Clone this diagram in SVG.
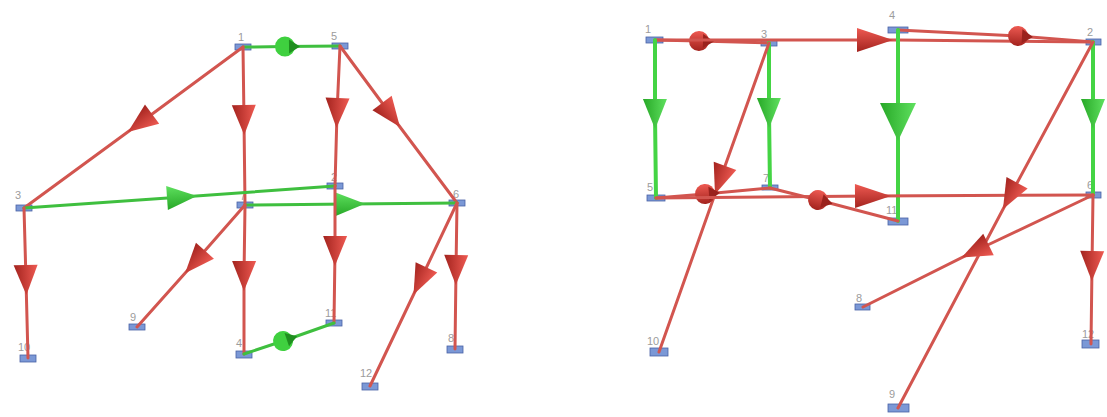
<svg xmlns="http://www.w3.org/2000/svg" width="1107" height="417" viewBox="0 0 1107 417">
<style>
.re{fill:none;stroke:#d2554f;stroke-width:3;stroke-linecap:round}
.ge{fill:none;stroke:#3fbf3f;stroke-width:3;stroke-linecap:round}
.gb{fill:none;stroke:#44d444;stroke-width:4;stroke-linecap:round}
.nd{fill:#7b98d6;stroke:#4a62a6;stroke-width:0.8}
.lb{font-family:"Liberation Sans",Arial,sans-serif;font-size:11px;fill:#9c9c9c}
</style>
<defs>
<linearGradient id="gr" x1="0" y1="0" x2="0" y2="1"><stop offset="0" stop-color="#ee5a52"/><stop offset="1" stop-color="#a3231e"/></linearGradient>
<linearGradient id="gg" x1="0" y1="0" x2="0" y2="1"><stop offset="0" stop-color="#5fe05f"/><stop offset="1" stop-color="#27a827"/></linearGradient>
<marker id="ra" markerUnits="userSpaceOnUse" orient="auto" overflow="visible" markerWidth="40" markerHeight="40"><path d="M-15,-12 L15,0 L-15,12 Z" fill="url(#gr)"/></marker>
<marker id="raL" markerUnits="userSpaceOnUse" orient="auto" overflow="visible" markerWidth="40" markerHeight="40"><path d="M-18,-12 L18,0 L-18,12 Z" fill="url(#gr)"/></marker>
<marker id="ga" markerUnits="userSpaceOnUse" orient="auto" overflow="visible" markerWidth="40" markerHeight="40"><path d="M-15,-12 L15,0 L-15,12 Z" fill="url(#gg)"/></marker>
<marker id="gaL" markerUnits="userSpaceOnUse" orient="auto" overflow="visible" markerWidth="50" markerHeight="50"><path d="M-19,-18 L19,0 L-19,18 Z" fill="url(#gg)"/></marker>
<marker id="rb" markerUnits="userSpaceOnUse" orient="auto" overflow="visible" markerWidth="40" markerHeight="40"><circle r="10" fill="url(#gr)"/><path d="M4,-7 L15,0 L4,7 Z" fill="#9a221d"/></marker>
<marker id="gbm" markerUnits="userSpaceOnUse" orient="auto" overflow="visible" markerWidth="40" markerHeight="40"><circle r="10" fill="#3fd03f"/><path d="M4,-7 L15,0 L4,7 Z" fill="#1f8f1f"/></marker>
</defs>
<rect width="1107" height="417" fill="#ffffff"/>
<g id="L1"><rect class="nd" x="235" y="44" width="16" height="6"/><text class="lb" x="238" y="41">1</text></g>
<g id="L5"><rect class="nd" x="332" y="43" width="16" height="6"/><text class="lb" x="331" y="40">5</text></g>
<g id="L3"><rect class="nd" x="16" y="205" width="16" height="6"/><text class="lb" x="15" y="199">3</text></g>
<g id="L7"><rect class="nd" x="237" y="202" width="16" height="6"/><text class="lb" x="240" y="200">7</text></g>
<g id="L2"><rect class="nd" x="327" y="183" width="16" height="6"/><text class="lb" x="331" y="181">2</text></g>
<g id="L6"><rect class="nd" x="449" y="200" width="16" height="6"/><text class="lb" x="453" y="198">6</text></g>
<g id="L10"><rect class="nd" x="20" y="355" width="16" height="7"/><text class="lb" x="18" y="351">10</text></g>
<g id="L9"><rect class="nd" x="129" y="324" width="16" height="6"/><text class="lb" x="130" y="321">9</text></g>
<g id="L4"><rect class="nd" x="236" y="351" width="16" height="7"/><text class="lb" x="236" y="347">4</text></g>
<g id="L11"><rect class="nd" x="326" y="320" width="16" height="6"/><text class="lb" x="325" y="317">11</text></g>
<g id="L12"><rect class="nd" x="362" y="383" width="16" height="7"/><text class="lb" x="360" y="377">12</text></g>
<g id="L8"><rect class="nd" x="447" y="346" width="16" height="7"/><text class="lb" x="448" y="342">8</text></g>
<g id="R1"><rect class="nd" x="646" y="37" width="17" height="6"/><text class="lb" x="645" y="33">1</text></g>
<g id="R3"><rect class="nd" x="761" y="40" width="16" height="6"/><text class="lb" x="761" y="38">3</text></g>
<g id="R4"><rect class="nd" x="888" y="27" width="20" height="6"/><text class="lb" x="889" y="19">4</text></g>
<g id="R2"><rect class="nd" x="1086" y="39" width="15" height="6"/><text class="lb" x="1087" y="36">2</text></g>
<g id="R5"><rect class="nd" x="647" y="195" width="18" height="6"/><text class="lb" x="647" y="191">5</text></g>
<g id="R7"><rect class="nd" x="762" y="185" width="16" height="5"/><text class="lb" x="763" y="182">7</text></g>
<g id="R11"><rect class="nd" x="888" y="218" width="20" height="7"/><text class="lb" x="886" y="214">11</text></g>
<g id="R6"><rect class="nd" x="1086" y="192" width="15" height="6"/><text class="lb" x="1087" y="189">6</text></g>
<g id="R8"><rect class="nd" x="855" y="304" width="15" height="6"/><text class="lb" x="856" y="302">8</text></g>
<g id="R10"><rect class="nd" x="650" y="348" width="18" height="8"/><text class="lb" x="647" y="345">10</text></g>
<g id="R9"><rect class="nd" x="888" y="404" width="21" height="8"/><text class="lb" x="889" y="398">9</text></g>
<g id="R12"><rect class="nd" x="1082" y="340" width="17" height="8"/><text class="lb" x="1082" y="338">12</text></g>
<g id="connectors">
<path class="ge" d="M243,47 L285,46.6 L340,46" marker-mid="url(#gbm)"/>
<path class="re" d="M243,47 L140,123 L24,208" marker-mid="url(#ra)"/>
<path class="re" d="M243,47 L244,120 L245,205" marker-mid="url(#ra)"/>
<path class="re" d="M340,46 L337,113 L335,186" marker-mid="url(#ra)"/>
<path class="re" d="M340,46 L391,115 L457,203" marker-mid="url(#ra)"/>
<path class="ge" d="M24,208 L182,197 L335,186" marker-mid="url(#ga)"/>
<path class="ge" d="M245,205 L350,204 L457,203" marker-mid="url(#ga)"/>
<path class="re" d="M24,208 L26,280 L28,358" marker-mid="url(#ra)"/>
<path class="re" d="M245,205 L195,262 L137,327" marker-mid="url(#ra)"/>
<path class="re" d="M245,205 L244,276 L244,354" marker-mid="url(#ra)"/>
<path class="re" d="M335,186 L335,251 L334,323" marker-mid="url(#ra)"/>
<path class="ge" d="M244,354 L283,341 L334,323" marker-mid="url(#gbm)"/>
<path class="re" d="M457,203 L420,281 L370,386" marker-mid="url(#ra)"/>
<path class="re" d="M457,203 L456,270 L455,349" marker-mid="url(#ra)"/>
<path class="re" d="M655,40 L699,41 L769,43" marker-mid="url(#rb)"/>
<path class="re" d="M655,40 L875,40 L897,40" marker-mid="url(#raL)"/>
<path class="re" d="M897,40 L1093,42"/>
<path class="re" d="M898,30 L1018,36 L1093,42" marker-mid="url(#rb)"/>
<path class="gb" d="M655,40 L655,114 L656,198" marker-mid="url(#ga)"/>
<path class="gb" d="M769,43 L769,113 L770,188" marker-mid="url(#ga)"/>
<path class="gb" d="M898,30 L898,122 L898,221" marker-mid="url(#gaL)"/>
<path class="gb" d="M1093,42 L1093,114 L1093,195" marker-mid="url(#ga)"/>
<path class="re" d="M769,43 L720,180 L659,352" marker-mid="url(#ra)"/>
<path class="re" d="M656,198 L705,194 L770,188" marker-mid="url(#rb)"/>
<path class="re" d="M656,198 L873,196 L1093,195" marker-mid="url(#raL)"/>
<path class="re" d="M770,188 L818,200 L898,221" marker-mid="url(#rb)"/>
<path class="re" d="M1093,42 L1010,196 L898,408" marker-mid="url(#ra)"/>
<path class="re" d="M1093,195 L975,251 L863,307" marker-mid="url(#ra)"/>
<path class="re" d="M1093,195 L1092,266 L1091,344" marker-mid="url(#ra)"/>
</g>
</svg>
